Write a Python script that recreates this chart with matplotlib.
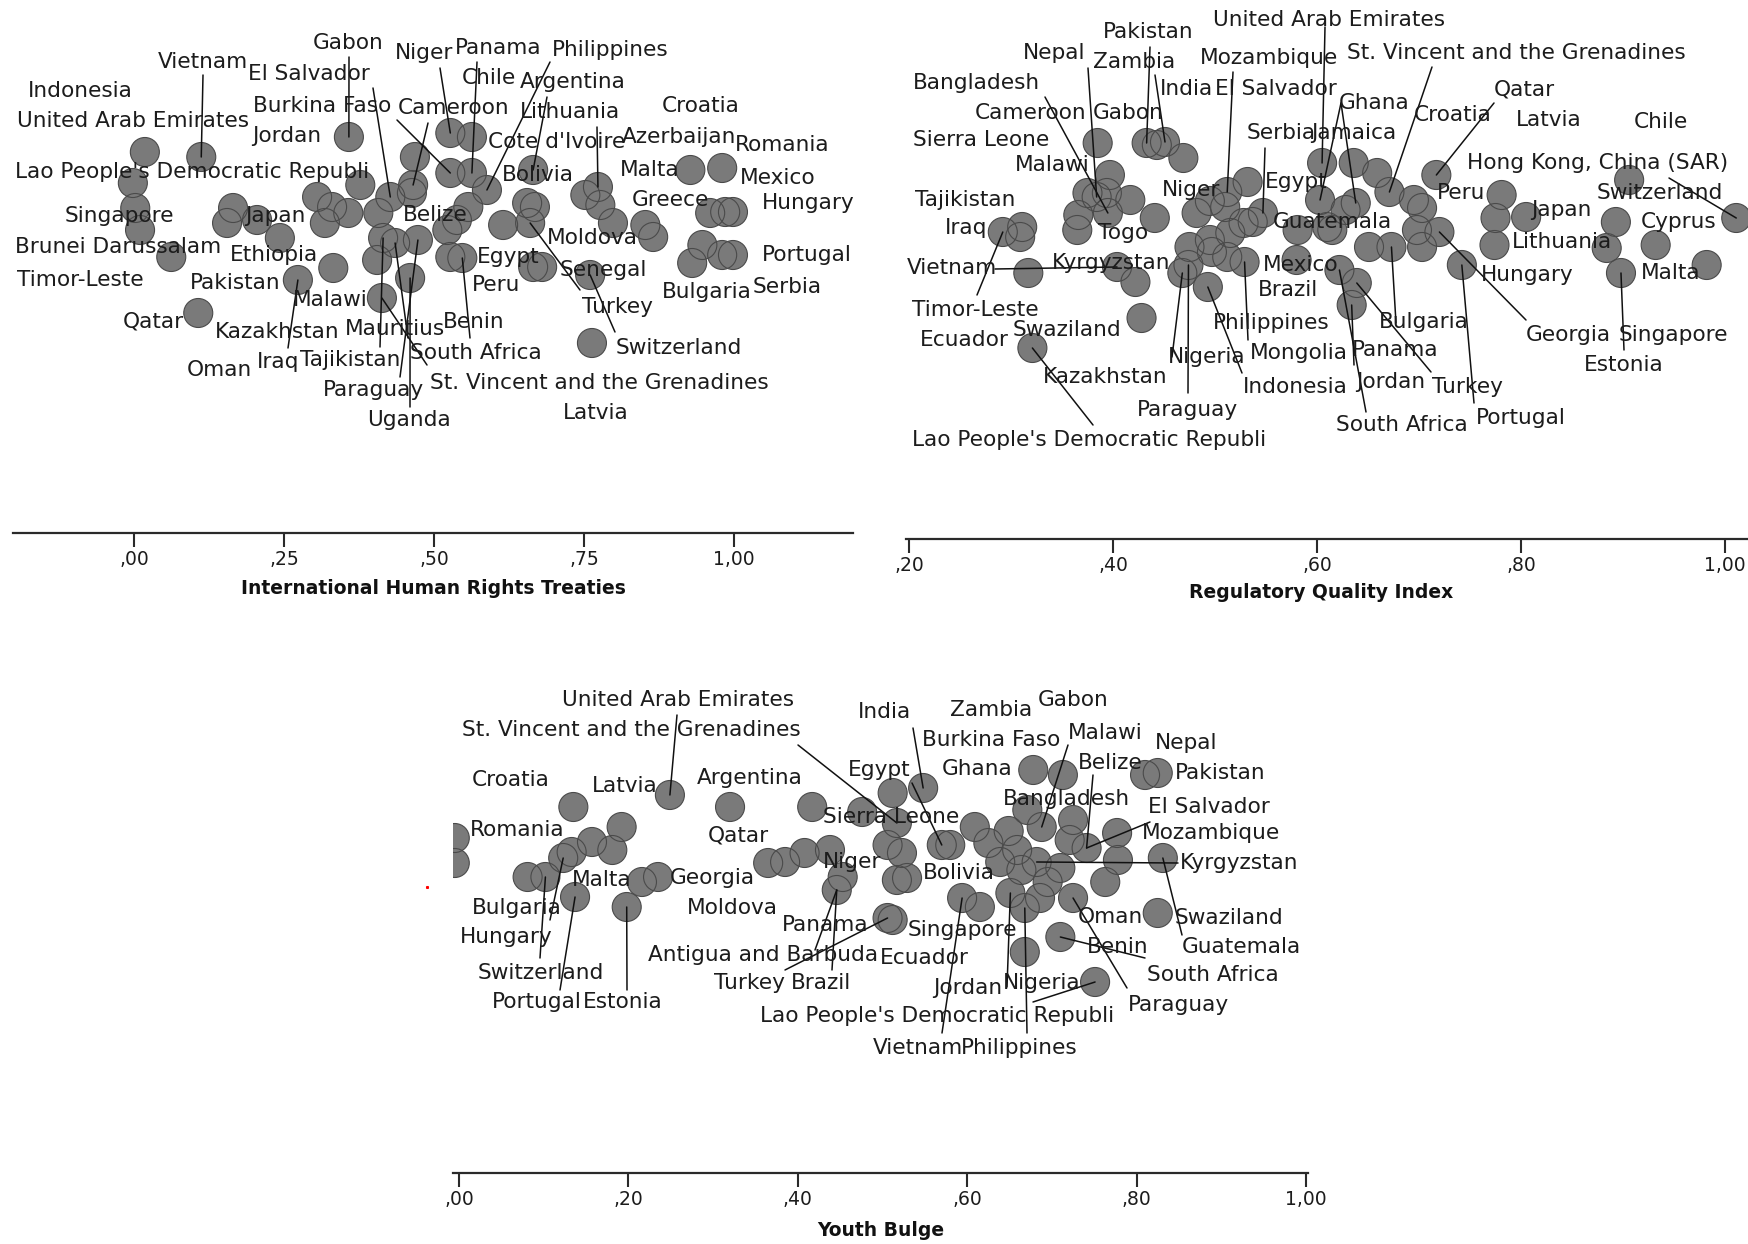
import matplotlib
matplotlib.use("Agg")
import matplotlib.pyplot as plt
import matplotlib.transforms as mtransforms
from matplotlib.lines import Line2D

# ---------------- data ----------------
# Panel 1: International Human Rights Treaties (value, vertical jitter)
hr_x = [0.018, 0.112, -0.002, 0.002, 0.010, 0.062, 0.165, 0.155, 0.205, 0.243,
        0.358, 0.468, 0.377, 0.305, 0.330, 0.357, 0.318, 0.407, 0.427, 0.463,
        0.465, 0.415, 0.435, 0.405, 0.473, 0.332, 0.273, 0.460, 0.527, 0.527,
        0.563, 0.563, 0.588, 0.557, 0.538, 0.522, 0.665, 0.655, 0.668, 0.615,
        0.660, 0.527, 0.547, 0.665, 0.680, 0.752, 0.773, 0.777, 0.798, 0.852,
        0.865, 0.760, 0.927, 0.980, 0.960, 0.985, 0.998, 0.947, 0.930, 0.980,
        0.998, 0.107, 0.413, 0.763]
hr_jit = [381, 376, 350, 325, 303, 276, 325, 310, 313, 295,
          396, 376, 348, 336, 326, 320, 310, 320, 336, 340,
          348, 295, 290, 273, 293, 265, 253, 255, 400, 360,
          396, 360, 343, 326, 313, 303, 363, 330, 326, 308,
          310, 276, 275, 266, 266, 338, 346, 328, 310, 308,
          296, 258, 363, 365, 320, 321, 321, 288, 270, 278,
          278, 220, 235, 190]
hr_ticks = [0.0, 0.25, 0.5, 0.75, 1.0]
hr_ticklabels = [",00", ",25", ",50", ",75", "1,00"]

# Panel 2: Regulatory Quality Index
rq_x = [0.385, 0.397, 0.375, 0.384, 0.394, 0.417, 0.366, 0.365, 0.395, 0.441,
        0.433, 0.443, 0.451, 0.469, 0.292, 0.311, 0.309, 0.317, 0.404, 0.422,
        0.428, 0.321, 0.482, 0.475, 0.474, 0.497, 0.493, 0.512, 0.532, 0.537,
        0.547, 0.510, 0.515, 0.529, 0.581, 0.580, 0.605, 0.603, 0.610, 0.636,
        0.659, 0.671, 0.638, 0.628, 0.615, 0.651, 0.673, 0.698, 0.720, 0.703,
        0.703, 0.695, 0.717, 0.742, 0.622, 0.639, 0.634, 0.781, 0.805, 0.775,
        0.774, 0.893, 0.884, 0.898, 0.932, 0.982, 0.906, 1.011, 0.495, 0.528,
        0.495, 0.512, 0.468]
rq_jit = [396, 364, 346, 342, 346, 339, 324, 309, 326, 321,
          396, 394, 397, 381, 307, 312, 302, 266, 272, 257,
          221, 191, 326, 292, 274, 287, 252, 347, 357, 317,
          326, 332, 306, 277, 309, 279, 376, 339, 312, 376,
          366, 347, 336, 329, 309, 292, 292, 309, 307, 292,
          331, 339, 364, 274, 269, 256, 234, 344, 322, 321,
          294, 317, 291, 266, 294, 274, 359, 321, 338, 316,
          299, 282, 266]
rq_ticks = [0.2, 0.4, 0.6, 0.8, 1.0]
rq_ticklabels = [",20", ",40", ",60", ",80", "1,00"]

# Panel 3: Youth Bulge
yb_x = [-0.005, -0.005, 0.135, 0.192, 0.157, 0.133, 0.123, 0.181, 0.081, 0.102,
        0.137, 0.249, 0.320, 0.417, 0.476, 0.198, 0.216, 0.235, 0.365, 0.385,
        0.408, 0.438, 0.453, 0.446, 0.512, 0.548, 0.517, 0.506, 0.523, 0.517,
        0.529, 0.506, 0.512, 0.570, 0.580, 0.609, 0.625, 0.639, 0.659, 0.594,
        0.615, 0.651, 0.668, 0.686, 0.695, 0.682, 0.710, 0.725, 0.678, 0.713,
        0.671, 0.688, 0.725, 0.721, 0.741, 0.777, 0.778, 0.763, 0.810, 0.825,
        0.831, 0.825, 0.710, 0.668, 0.751, 0.649, 0.664]
yb_jit = [335, 310, 366, 346, 331, 321, 315, 323, 296, 296,
          276, 378, 366, 366, 361, 266, 291, 296, 310, 311,
          320, 323, 296, 283, 380, 385, 350, 328, 320, 293,
          295, 255, 253, 328, 328, 346, 330, 311, 323, 275,
          266, 280, 265, 275, 291, 311, 305, 275, 403, 398,
          363, 346, 353, 333, 325, 340, 313, 291, 398, 400,
          315, 260, 236, 221, 191, 342, 303]
yb_ticks = [0.0, 0.2, 0.4, 0.6, 0.8, 1.0]
yb_ticklabels = [",00", ",20", ",40", ",60", ",80", "1,00"]

# ---------------- label layout (figure pixels) ----------------
hr_labels = [
    ("Gabon", 313, 43), ("Vietnam", 158, 62), ("El Salvador", 248, 74),
    ("Indonesia", 28, 91), ("United Arab Emirates", 17, 121),
    ("Burkina Faso", 253, 106), ("Cameroon", 398, 108), ("Jordan", 252, 136),
    ("Niger", 395, 53), ("Lao People's Democratic Republi", 15, 172),
    ("Singapore", 65, 216), ("Japan", 245, 216), ("Belize", 403, 215),
    ("Brunei Darussalam", 15, 247), ("Ethiopia", 230, 255),
    ("Timor-Leste", 17, 280), ("Pakistan", 190, 283), ("Malawi", 293, 300),
    ("Qatar", 123, 322), ("Kazakhstan", 215, 332), ("Mauritius", 345, 329),
    ("Oman", 187, 370), ("Iraq", 257, 362), ("Tajikistan", 300, 360),
    ("Paraguay", 323, 390), ("Uganda", 367, 420), ("Panama", 455, 48),
    ("Philippines", 552, 50), ("Chile", 462, 78), ("Argentina", 520, 82),
    ("Lithuania", 520, 112), ("Croatia", 662, 106), ("Cote d'Ivoire", 488, 142),
    ("Azerbaijan", 622, 137), ("Romania", 735, 145), ("Bolivia", 502, 175),
    ("Malta", 620, 170), ("Mexico", 740, 178), ("Greece", 632, 200),
    ("Hungary", 762, 203), ("Moldova", 547, 238), ("Egypt", 477, 257),
    ("Portugal", 762, 255), ("Senegal", 560, 270), ("Peru", 472, 285),
    ("Bulgaria", 662, 292), ("Serbia", 753, 287), ("Turkey", 582, 307),
    ("Benin", 443, 322), ("Switzerland", 616, 348), ("South Africa", 410, 353),
    ("St. Vincent and the Grenadines", 430, 383), ("Latvia", 563, 413),
]
hr_leaders = [(1, 203, 75), (10, 349, 57), (18, 373, 88), (29, 397, 120),
              (20, 428, 123), (28, 440, 68), (31, 477, 62), (32, 550, 62),
              (36, 547, 97), (46, 597, 127), (40, 580, 290), (51, 615, 332),
              (42, 470, 338), (26, 288, 348), (21, 380, 347), (22, 408, 338),
              (27, 410, 407), (24, 400, 377), (62, 427, 365)]

rq_labels = [
    ("Pakistan", 1103, 32), ("Nepal", 1023, 53), ("Zambia", 1093, 62),
    ("Bangladesh", 913, 83), ("India", 1160, 89), ("El Salvador", 1215, 89),
    ("Mozambique", 1200, 58), ("United Arab Emirates", 1213, 20),
    ("Cameroon", 975, 113), ("Gabon", 1093, 113), ("Sierra Leone", 913, 140),
    ("Serbia", 1247, 133), ("Jamaica", 1311, 133), ("Malawi", 1015, 165),
    ("Egypt", 1265, 182), ("Niger", 1162, 190), ("Tajikistan", 915, 200),
    ("Iraq", 945, 228), ("Togo", 1098, 233), ("Guatemala", 1273, 222),
    ("Vietnam", 907, 268), ("Kyrgyzstan", 1052, 263), ("Mexico", 1263, 265),
    ("Brazil", 1258, 290), ("Timor-Leste", 912, 310), ("Ecuador", 920, 340),
    ("Swaziland", 1013, 330), ("Kazakhstan", 1043, 377), ("Paraguay", 1137, 410),
    ("Lao People's Democratic Republi", 912, 440), ("Philippines", 1213, 323),
    ("Nigeria", 1168, 357), ("Mongolia", 1250, 353), ("Indonesia", 1243, 387),
    ("St. Vincent and the Grenadines", 1347, 53), ("Ghana", 1339, 103),
    ("Croatia", 1414, 115), ("Qatar", 1494, 90), ("Latvia", 1516, 120),
    ("Chile", 1634, 122), ("Hong Kong, China (SAR)", 1467, 163),
    ("Peru", 1437, 193), ("Switzerland", 1597, 193), ("Japan", 1531, 210),
    ("Cyprus", 1641, 222), ("Lithuania", 1512, 242), ("Hungary", 1481, 275),
    ("Malta", 1641, 273), ("Bulgaria", 1379, 322), ("Georgia", 1526, 335),
    ("Singapore", 1619, 335), ("Panama", 1352, 350), ("Estonia", 1584, 365),
    ("Jordan", 1356, 382), ("Turkey", 1432, 387), ("South Africa", 1336, 425),
    ("Portugal", 1476, 418),
]
rq_leaders = [(3, 1088, 68), (8, 1045, 97), (10, 1150, 47), (12, 1155, 75),
              (27, 1233, 72), (36, 1325, 27), (30, 1265, 148), (18, 995, 269),
              (14, 977, 295), (21, 1093, 425), (24, 1188, 393), (72, 1172, 357),
              (33, 1248, 340), (26, 1242, 373), (37, 1341, 103), (42, 1341, 103),
              (41, 1432, 67), (52, 1494, 103), (67, 1669, 178), (48, 1526, 320),
              (46, 1396, 323), (53, 1474, 403), (63, 1624, 350), (55, 1431, 372),
              (54, 1366, 412), (56, 1354, 365)]

yb_labels = [
    ("United Arab Emirates", 562, 700), ("St. Vincent and the Grenadines", 462, 730),
    ("Croatia", 472, 780), ("Latvia", 592, 786), ("Argentina", 697, 778),
    ("Romania", 470, 830), ("Qatar", 708, 835), ("Malta", 572, 880),
    ("Georgia", 670, 878), ("Bulgaria", 472, 908), ("Moldova", 687, 908),
    ("Hungary", 460, 937), ("Panama", 782, 925), ("Antigua and Barbuda", 648, 955),
    ("Switzerland", 478, 973), ("Turkey", 714, 983), ("Brazil", 791, 983),
    ("Portugal", 492, 1002), ("Estonia", 583, 1002),
    ("Lao People's Democratic Republi", 760, 1016), ("Niger", 823, 862),
    ("Sierra Leone", 823, 817), ("India", 858, 712), ("Egypt", 848, 770),
    ("Zambia", 950, 710), ("Gabon", 1038, 700), ("Burkina Faso", 922, 740),
    ("Malawi", 1068, 733), ("Nepal", 1155, 743), ("Ghana", 942, 769),
    ("Belize", 1078, 763), ("Pakistan", 1175, 773), ("Bangladesh", 1003, 799),
    ("El Salvador", 1148, 807), ("Mozambique", 1142, 833), ("Kyrgyzstan", 1180, 863),
    ("Bolivia", 923, 873), ("Oman", 1078, 917), ("Swaziland", 1175, 918),
    ("Singapore", 908, 930), ("Benin", 1087, 947), ("Guatemala", 1182, 947),
    ("Ecuador", 880, 958), ("South Africa", 1147, 975), ("Jordan", 933, 988),
    ("Nigeria", 1003, 983), ("Paraguay", 1128, 1005), ("Vietnam", 873, 1048),
    ("Philippines", 961, 1048),
]
yb_leaders = [(11, 677, 715), (26, 798, 745), (25, 913, 728), (33, 912, 783),
              (51, 1068, 745), (54, 1093, 775), (54, 1150, 822), (45, 1178, 863),
              (60, 1182, 935), (47, 1127, 988), (62, 1145, 958), (64, 1033, 1002),
              (41, 1007, 987), (42, 1027, 1033), (39, 942, 1033), (9, 540, 958),
              (6, 550, 920), (10, 560, 990), (15, 627, 990), (23, 832, 970),
              (23, 815, 950), (31, 785, 970)]

# ---------------- drawing ----------------
W, H = 1749, 1244
fig = plt.figure(figsize=(W / 100, H / 100), dpi=100)
fig.patch.set_facecolor("white")
pxt = mtransforms.Affine2D().scale(1 / W, -1 / H).translate(0, 1) + fig.transFigure

FILL = "#7a7a7a"
EDGE = "#4a4a4a"
TXT = "#1c1c1c"
LABEL_FS = 15.6


def panel(left, right, top, bottom, xlim, xs, js, ticks, ticklabels,
          labels, leaders, title, title_xy):
    ax = fig.add_axes([left / W, 1 - bottom / H, (right - left) / W, (bottom - top) / H])
    ax.set_xlim(*xlim)
    ax.set_ylim(0, bottom - top)
    ax.patch.set_alpha(0)
    for s in ("left", "right", "top"):
        ax.spines[s].set_visible(False)
    ax.spines["bottom"].set_color("#2a2a2a")
    ax.spines["bottom"].set_linewidth(1.6)
    ax.set_yticks([])
    ax.set_xticks(ticks)
    ax.set_xticklabels(ticklabels)
    ax.tick_params(axis="x", direction="out", length=10, width=1.5,
                   color="#2a2a2a", labelsize=13.5, labelcolor=TXT, pad=2)
    ax.scatter(xs, js, s=436, c=FILL, edgecolors="none", zorder=2)
    ax.scatter(xs, js, s=436, facecolors="none", edgecolors=EDGE,
               linewidths=0.8, zorder=3)
    for idx, ex, ey in leaders:
        ax.annotate("", xy=(xs[idx], js[idx]), xycoords="data",
                    xytext=(ex, ey), textcoords=pxt,
                    arrowprops=dict(arrowstyle="-", color="#111111", lw=1.1,
                                    shrinkA=0, shrinkB=0), zorder=4)
    for name, lx, ly in labels:
        fig.text(lx, ly, name, transform=pxt, ha="left", va="center",
                 fontsize=LABEL_FS, color=TXT, zorder=5)
    fig.text(title_xy[0], title_xy[1], title, transform=pxt, ha="center",
             va="center", fontsize=13.5, fontweight="bold", color="#111111")
    return ax


panel(13, 853, 0, 533, (-0.2017, 1.198), hr_x, hr_jit, hr_ticks, hr_ticklabels,
      hr_labels, hr_leaders, "International Human Rights Treaties", (433, 588))
panel(906, 1749, 0, 539, (0.1971, 1.0235), rq_x, rq_jit, rq_ticks, rq_ticklabels,
      rq_labels, rq_leaders, "Regulatory Quality Index", (1321, 592))
panel(453, 1308, 600, 1173, (-0.0071, 1.0024), yb_x, yb_jit, yb_ticks, yb_ticklabels,
      yb_labels, yb_leaders, "Youth Bulge", (881, 1231))

fig.add_artist(Line2D([427], [887], transform=pxt, marker="s", markersize=1.2,
                      color="red", linestyle="none"))

fig.savefig("out.png", dpi=100, facecolor="white")
